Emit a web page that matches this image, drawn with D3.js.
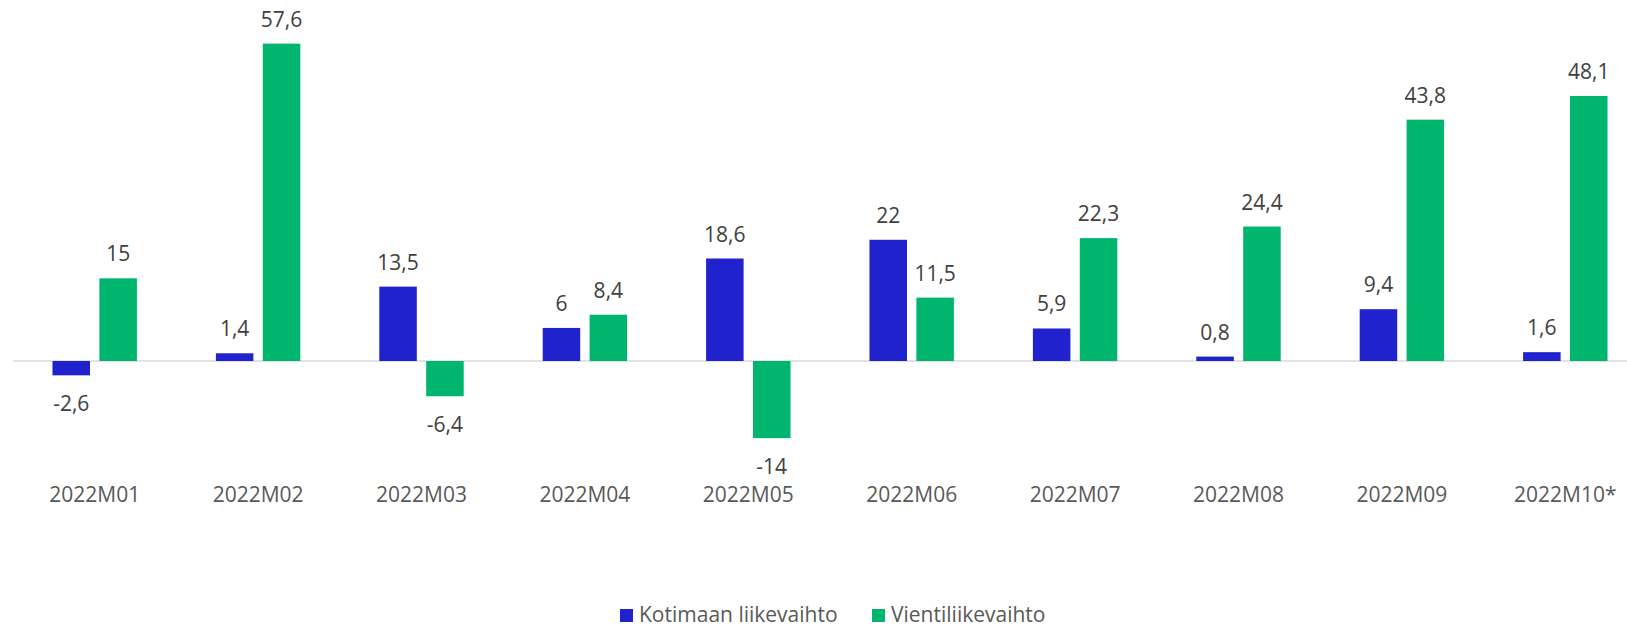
<!DOCTYPE html>
<html>
<head>
<meta charset="utf-8">
<script src="https://cdn.jsdelivr.net/npm/d3@7"></script>
<style>
  body { margin: 0; background: #fff; }
  svg text { font-family: "Open Sans", "Noto Sans", sans-serif; }
</style>
</head>
<body>
<div id="chart"></div>
<script>
(function(){

    var months = ["2022M01", "2022M02", "2022M03", "2022M04", "2022M05",
                  "2022M06", "2022M07", "2022M08", "2022M09", "2022M10*"];
    var seriesNames = ["Kotimaan liikevaihto", "Vientiliikevaihto"];
    var kotimaan = [-2.6, 1.4, 13.5, 6, 18.6, 22, 5.9, 0.8, 9.4, 1.6];
    var vienti = [15, 57.6, -6.4, 8.4, -14, 11.5, 22.3, 24.4, 43.8, 48.1];
    var colors = ["#1f22cd", "#00b66e"];

    var chart = {
        width: 1627,
        height: 627,
        left: 13,
        right: 1647,   /* plot area runs a little past the right edge */
        top: 30.4,
        bottom: 471.2
    };

    var fmt = function(v){ return String(v).replace(".", ","); };

    var svg = d3.select("#chart")
        .append("svg")
        .attr("width", chart.width)
        .attr("height", chart.height);

    var x0 = d3.scaleBand()
        .domain(months)
        .range([chart.left, chart.right]);

    var x1 = d3.scaleBand()
        .domain([0, 1])
        .range([0, x0.bandwidth()])
        .paddingInner(0.2)
        .paddingOuter(0.842);

    var y = d3.scaleLinear()
        .domain([-20, 60])
        .range([chart.bottom, chart.top]);

    var data = months.map(function(m, i){
        return { month: m, values: [kotimaan[i], vienti[i]] };
    });

    /* nollaviiva */
    svg.append("line")
        .attr("x1", chart.left)
        .attr("x2", chart.width)
        .attr("y1", y(0))
        .attr("y2", y(0))
        .style("stroke", "#d9d9d9")
        .style("stroke-width", 1.5);

    var g = svg.selectAll("g.group")
        .data(data)
        .enter()
        .append("g")
        .attr("class", "group")
        .attr("transform", function(d){ return "translate(" + x0(d.month) + ",0)"; });

    var bars = g.selectAll("g.bar")
        .data(function(d){
            return d.values.map(function(v, k){ return { k: k, v: v }; });
        })
        .enter()
        .append("g")
        .attr("class", "bar");

    bars.append("rect")
        .attr("x", function(d){ return x1(d.k); })
        .attr("width", x1.bandwidth())
        .attr("y", function(d){ return y(Math.max(0, d.v)); })
        .attr("height", function(d){ return Math.abs(y(d.v) - y(0)); })
        .style("fill", function(d){ return colors[d.k]; });

    /* arvot */
    bars.append("text")
        .attr("x", function(d){ return x1(d.k) + x1.bandwidth() / 2; })
        .attr("y", function(d){ return d.v >= 0 ? y(d.v) - 17 : y(d.v) + 36; })
        .attr("text-anchor", "middle")
        .style("font-size", "21px")
        .style("fill", "#404040")
        .text(function(d){ return fmt(d.v); });

    /* kategoriat */
    svg.append("g")
        .selectAll("text")
        .data(months)
        .enter()
        .append("text")
        .attr("x", function(d){ return x0(d) + x0.bandwidth() / 2; })
        .attr("y", 502)
        .attr("text-anchor", "middle")
        .style("font-size", "21px")
        .style("fill", "#595959")
        .text(function(d){ return d; });

    /* selite */
    var legendX = [620, 872];
    var legend = svg.append("g")
        .selectAll("g")
        .data(seriesNames)
        .enter()
        .append("g")
        .attr("transform", function(d, i){ return "translate(" + legendX[i] + ",609)"; });

    legend.append("rect")
        .attr("width", 13)
        .attr("height", 13)
        .style("fill", function(d, i){ return colors[i]; });

    legend.append("text")
        .attr("x", 19)
        .attr("y", 13)
        .style("font-size", "21px")
        .style("fill", "#595959")
        .text(function(d){ return d; });

})();
</script>
</body>
</html>
